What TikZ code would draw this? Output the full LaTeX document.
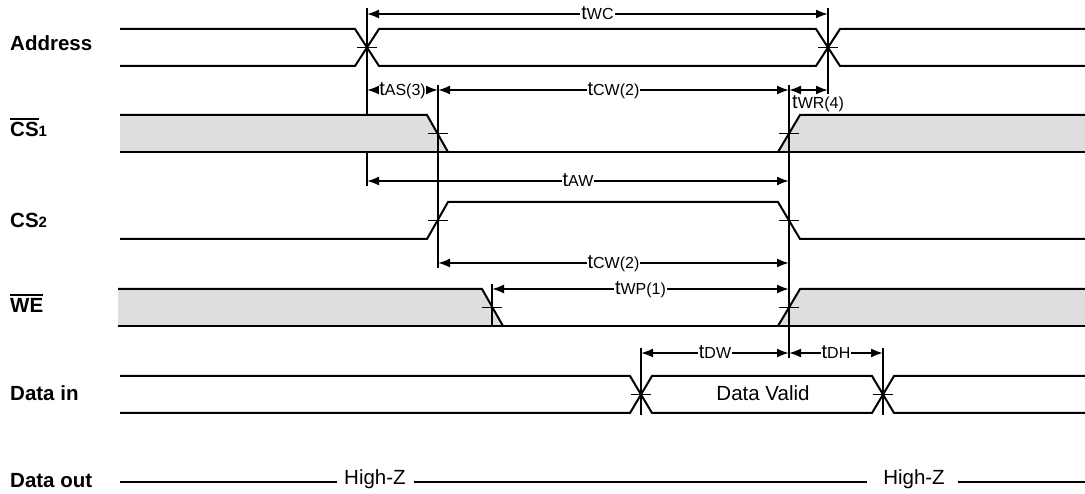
\documentclass[tikz,border=0pt]{standalone}
\usepackage{fontspec}
\setmainfont{Liberation Sans}
\usetikzlibrary{arrows.meta}
\definecolor{sigfill}{RGB}{222,222,222}
\newcommand\tlbl[1]{{\fontsize{20}{22}\selectfont t}{\fontsize{16}{18}\selectfont #1}}
\newcommand\ovl[1]{\vbox{\hrule height 2pt\kern 3pt\hbox{#1}}}
\begin{document}
\begin{tikzpicture}[x=1pt,y=-1pt,
  >={Latex[length=12pt,width=9pt]},
  sig/.style={line width=2pt},
  shade/.style={fill=sigfill,draw=none},
  ref/.style={line width=1.9pt},
  dim/.style={line width=1.9pt,<->},
  dimlab/.style={fill=white,inner sep=1pt,anchor=base,yshift=-5.5pt},
  sname/.style={anchor=base west,inner sep=0pt,font=\fontsize{20.5}{24}\selectfont\bfseries},
  plain/.style={inner sep=0pt,anchor=base,font=\fontsize{20.5}{24}\selectfont}]
\useasboundingbox (0,0) rectangle (1085,494);

% ---------- signal names ----------
\node[sname] (lAddr) at (10,51) {Address};
\node[sname] (lCSa) at (10,137) {\ovl{CS}{\fontsize{15}{16}\selectfont 1}};
\node[sname] (lCSb) at (10,228) {CS{\fontsize{15}{16}\selectfont 2}};
\node[sname] (lWE) at (10,313) {\ovl{WE}};
\node[sname] (lDin) at (10,400) {Data in};
\node[sname] (lDout) at (10,487) {Data out};

% ---------- grey (don't care) areas ----------
\fill[shade] (120,115) -- (427,115) -- (448,152) -- (120,152) -- cycle;
\fill[shade] (800,115) -- (1085,115) -- (1085,152) -- (778,152) -- cycle;
\fill[shade] (118,289) -- (482,289) -- (503,326) -- (118,326) -- cycle;
\fill[shade] (800,289) -- (1085,289) -- (1085,326) -- (778,326) -- cycle;

% ---------- reference (extension) lines ----------
\draw[ref] (367,8) -- (367,115);
\draw[ref] (367,152) -- (367,186);
\draw[ref] (828,8) -- (828,94);
\draw[ref] (438,85) -- (438,268);
\draw[ref] (789,85) -- (789,358);
\draw[ref] (492,284) -- (492,327);
\draw[ref] (641,348) -- (641,415);
\draw[ref] (883,348) -- (883,415);

% ---------- Address ----------
\draw[sig] (120,29) -- (355,29) -- (379,66) -- (816,66) -- (840,29) -- (1085,29);
\draw[sig] (120,66) -- (355,66) -- (379,29) -- (816,29) -- (840,66) -- (1085,66);
% ---------- CS1 ----------
\draw[sig] (120,115) -- (427,115) -- (448,152);
\draw[sig] (778,152) -- (800,115) -- (1085,115);
\draw[sig] (120,152) -- (1085,152);
% ---------- CS2 ----------
\draw[sig] (120,239) -- (427,239) -- (448,202) -- (778,202) -- (800,239) -- (1085,239);
% ---------- WE ----------
\draw[sig] (118,289) -- (482,289) -- (503,326);
\draw[sig] (778,326) -- (800,289) -- (1085,289);
\draw[sig] (118,326) -- (1085,326);
% ---------- Data in ----------
\draw[sig] (120,376) -- (630,376) -- (652,413) -- (872,413) -- (894,376) -- (1085,376);
\draw[sig] (120,413) -- (630,413) -- (652,376) -- (872,376) -- (894,413) -- (1085,413);
\node[plain] (valid) at (763,400) {Data Valid};
% ---------- Data out ----------
\node[plain] (hz1) at (375,484.5) {High-Z};
\node[plain] (hz2) at (914,484.5) {High-Z};
\coordinate (doL) at (120,482);
\coordinate (doR) at (1085,482);
\draw[sig] (doL) -- (337,482);
\draw[sig] (414,482) -- (867,482);
\draw[sig] (958,482) -- (doR);

% ---------- crossing ticks ----------
\foreach \x/\y in {367/47.5, 828/47.5, 438/133.5, 789/133.5, 438/220.5, 789/220.5,
                   492/307.5, 789/307.5, 641/394.5, 883/394.5}
  \draw[ref] (\x-10,\y) -- (\x+10,\y);

% ---------- timing dimensions ----------
\coordinate (wcL) at (367,14);  \coordinate (wcR) at (828,14);
\coordinate (asL) at (367,90);  \coordinate (asR) at (438,90);
\coordinate (cwR) at (789,90);  \coordinate (wrR) at (828,90);
\coordinate (awL) at (367,181); \coordinate (awR) at (789,181);
\coordinate (cw2L) at (438,263); \coordinate (cw2R) at (789,263);
\coordinate (wpL) at (492,289); \coordinate (wpR) at (789,289);
\coordinate (dwL) at (641,353); \coordinate (dwR) at (789,353);
\coordinate (dhR) at (883,353);

\draw[dim] (wcL) -- node[dimlab] (lwc) {\tlbl{WC}} (wcR);
\draw[dim] (asL) -- node[dimlab,inner sep=0.3pt] (las) {\tlbl{AS(3)}} (asR);
\draw[dim] (asR) -- node[dimlab] (lcw) {\tlbl{CW(2)}} (cwR);
\draw[dim] (cwR) -- (wrR);
\node[anchor=base west,inner sep=0pt] (lwr) at (792,109) {\tlbl{WR(4)}};
\draw[dim] (awL) -- node[dimlab] (law) {\tlbl{AW}} (awR);
\draw[dim] (cw2L) -- node[dimlab] (lcw2) {\tlbl{CW(2)}} (cw2R);
\draw[dim] (wpL) -- node[dimlab] (lwp) {\tlbl{WP(1)}} (wpR);
\draw[dim] (dwL) -- node[dimlab] (ldw) {\tlbl{DW}} (dwR);
\draw[dim] (dwR) -- node[dimlab] (ldh) {\tlbl{DH}} (dhR);
\end{tikzpicture}
\end{document}
